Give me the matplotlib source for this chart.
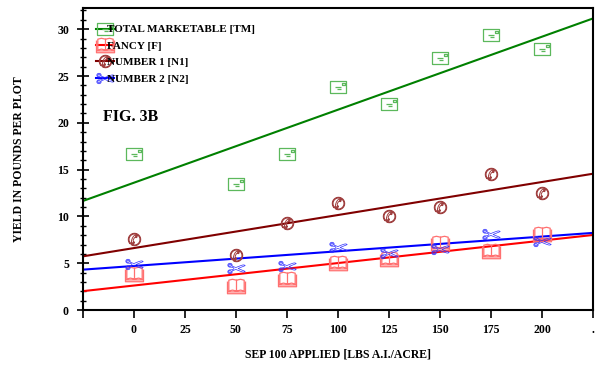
import matplotlib
matplotlib.use('Agg')
import matplotlib.pyplot as plt
from matplotlib.path import Path
from matplotlib.ticker import MultipleLocator, FixedLocator, FixedFormatter
import numpy as np

plt.rcParams['font.family'] = ['Liberation Serif', 'DejaVu Sans']
plt.rcParams['font.weight'] = 'bold'
plt.rcParams['mathtext.fontset'] = 'dejavusans'

# data
rate = [0, 50, 75, 100, 125, 150, 175, 200]
total_tm = [16.7, 13.5, 16.7, 23.8, 22.0, 26.9, 29.4, 27.9]
fancy_f = [3.9, 2.6, 3.3, 5.0, 5.5, 7.2, 6.3, 8.1]
number1_n1 = [7.6, 5.9, 9.3, 11.4, 10.1, 11.0, 14.5, 12.5]
number2_n2 = [4.9, 4.5, 4.7, 6.7, 6.1, 6.5, 8.1, 7.4]

# fitted lines (intercept, slope)
fit_tm = [13.6, 0.078]
fit_f = [2.62, 0.024]
fit_n1 = [6.62, 0.0353]
fit_n2 = [4.71, 0.0157]

labels = ['TOTAL MARKETABLE [TM]', 'FANCY [F]', 'NUMBER 1 [N1]', 'NUMBER 2 [N2]']
x_ticks = [-25, 0, 25, 50, 75, 100, 125, 150, 175, 200, 225]
x_ticklabels = ['', '0', '25', '50', '75', '100', '125', '150', '175', '200', '.']

# marker shapes (wingdings-like)
M, L = Path.MOVETO, Path.LINETO
env_verts = [(-1, -0.7), (1, -0.7), (1, 0.7), (-1, 0.7), (-1, -0.7),
             (0.5, 0.2), (0.8, 0.2), (0.8, 0.5), (0.5, 0.5), (0.5, 0.2),
             (-0.35, 0.05), (0.3, 0.05),
             (-0.15, -0.25), (0.4, -0.25)]
env_codes = [M, L, L, L, L, M, L, L, L, L, M, L, M, L]
envelope = Path(env_verts, env_codes)

book_verts = [(0, -0.5), (0, 0.7), (-0.45, 0.8), (-0.85, 0.7), (-0.85, -0.5), (-0.45, -0.4), (0, -0.5),
              (0, 0.7), (0.45, 0.8), (0.85, 0.7), (0.85, -0.5), (0.45, -0.4), (0, -0.5),
              (-1, 0.55), (-1, -0.8), (1, -0.8), (1, 0.55),
              (-1, -0.6), (1, -0.6)]
book_codes = [M, L, L, L, L, L, L, M, L, L, L, L, L, M, L, L, L, M, L]
book = Path(book_verts, book_codes)

fig = plt.figure(figsize=(5.96, 3.70), dpi=100)
ax = fig.add_axes([0.139, 0.162, 0.856, 0.816])

xs = np.array([-25, 225])
series = [
    (total_tm, fit_tm, '#008000', '#5cb85c', envelope, 12, 0.9),
    (fancy_f, fit_f, '#ff0000', '#ff7070', book, 13, 0.9),
    (number1_n1, fit_n1, '#800000', '#a04040', '$\u2706$', 9, 0.7),
    (number2_n2, fit_n2, '#0000ff', '#3030ff', '$\u2702$', 12.5, 0.5),
]
handles = []
for (vals, fit, lc, mc, mk, ms, mw), lab in zip(series, labels):
    ax.plot(xs, fit[0] + fit[1] * xs, color=lc, lw=1.5, zorder=2)
    ax.plot(rate, vals, linestyle='none', marker=mk, ms=ms, mfc='none', mec=mc, mew=mw, zorder=3)
    h, = ax.plot([], [], color=lc, lw=1.5, marker=mk, ms=ms, mfc='none', mec=mc, mew=mw)
    handles.append(h)

ax.set_xlim(-25, 225)
ax.set_ylim(0, 32.25)
ax.xaxis.set_major_locator(FixedLocator(x_ticks))
ax.xaxis.set_major_formatter(FixedFormatter(x_ticklabels))
ax.yaxis.set_major_locator(MultipleLocator(5))
ax.yaxis.set_minor_locator(MultipleLocator(1))
ax.tick_params(axis='x', direction='out', length=6, width=1.2, pad=4, labelsize=8.5)
ax.tick_params(axis='y', which='major', direction='inout', length=8, width=1.2, pad=6, labelsize=8.5)
ax.tick_params(axis='y', which='minor', direction='inout', length=4, width=1.0)
for s in ax.spines.values():
    s.set_linewidth(1.5)

ax.set_xlabel('SEP 100 APPLIED [LBS A.I./ACRE]', fontsize=8.5, fontweight='bold', labelpad=9)
ax.set_ylabel('YIELD IN POUNDS PER PLOT', fontsize=8.5, fontweight='bold', labelpad=23)

ax.text(0.039, 0.64, 'FIG. 3B', transform=ax.transAxes, fontsize=11.5, fontweight='bold', va='center')

leg = ax.legend(handles, labels, loc='upper left', bbox_to_anchor=(0.017, 0.96), frameon=False,
                fontsize=8, handlelength=1.6, handletextpad=-0.6, labelspacing=0.6,
                borderaxespad=0, numpoints=1)
for t in leg.get_texts():
    t.set_fontweight('bold')

fig.savefig('out.png', dpi=100)
